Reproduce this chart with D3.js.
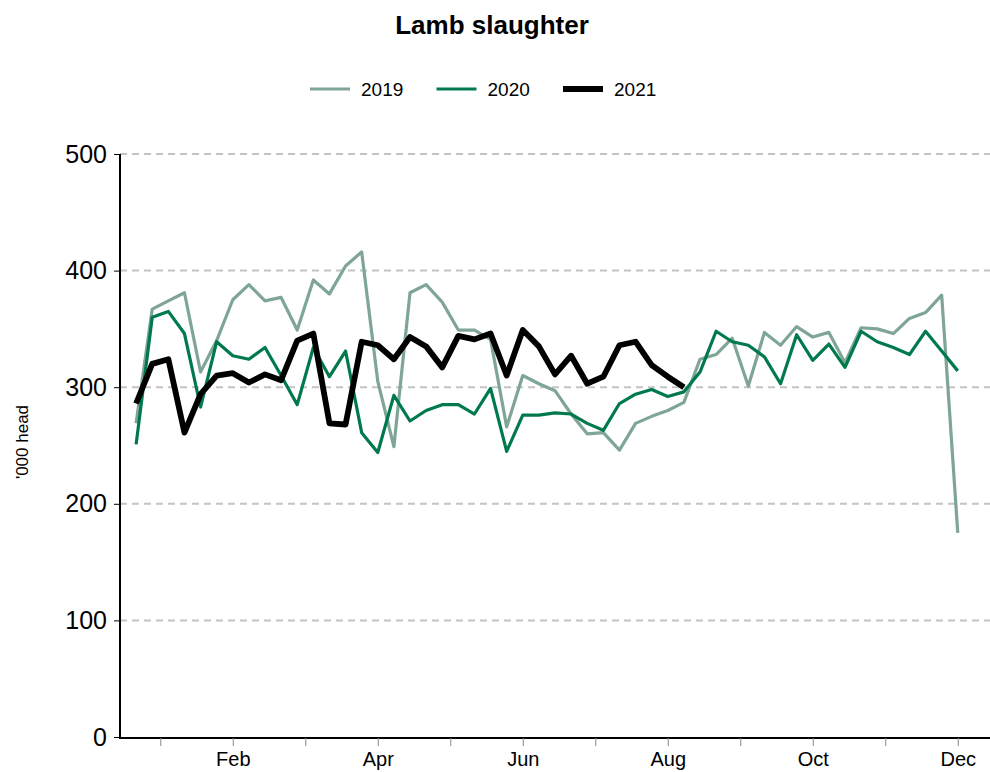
<!DOCTYPE html>
<html>
<head>
<meta charset="UTF-8">
<title>Lamb slaughter</title>
<script src="https://d3js.org/d3.v7.min.js"></script>
<style>
    body { margin: 0; background: #fff; }
    svg text { font-family: "Liberation Sans", Arial, sans-serif; fill: #000; }
</style>
</head>
<body>
<svg id="chart" width="990" height="772"></svg>
<script>
// weekly slaughter, '000 head
var y2019 = [269, 367, 374, 381, 313, 340, 375, 388, 374, 377, 349, 392, 380, 404, 416, 305, 249, 381, 388, 373,
             349, 349, 341, 266, 310, 303, 297, 277, 260, 261, 246, 269, 275, 280, 287, 324, 328, 342, 301, 347,
             336, 352, 343, 347, 321, 351, 350, 346, 359, 364, 379, 175];
var y2020 = [251, 360, 365, 346, 283, 339, 327, 324, 334, 310, 285, 334, 309, 331, 261, 244, 293, 271, 280, 285,
             285, 277, 299, 245, 276, 276, 278, 277, 269, 263, 286, 294, 298, 292, 296, 313, 348, 339, 336, 326,
             303, 345, 323, 337, 317, 348, 339, 334, 328, 348, 331, 314];
var y2021 = [286, 320, 324, 261, 294, 310, 312, 304, 311, 306, 340, 346, 269, 268, 339, 336, 324, 343, 335, 317,
             344, 341, 346, 310, 349, 335, 311, 327, 303, 309, 336, 339, 319, 309, 300];

var years = ["2019", "2020", "2021"];
var monthLabels = ["Jan", "Feb", "Mar", "Apr", "May", "Jun", "Jul", "Aug", "Sep", "Oct", "Nov", "Dec"];
var yTicks = [0, 100, 200, 300, 400, 500];

var seriesStyle = {
    "2019": {color: "#7fa596", width: 3.2},
    "2020": {color: "#007a4c", width: 3.2},
    "2021": {color: "#000000", width: 5.8}
};

var series = [
    {name: "2019", values: y2019},
    {name: "2020", values: y2020},
    {name: "2021", values: y2021}
];

var plotLeft = 120, plotRight = 990, plotTop = 154, plotBottom = 737;

var svg = d3.select("#chart");

// week index scale, months sit every 4.5 weeks
var x = d3.scaleLinear().domain([-1, 53]).range([plotLeft, plotRight]);
var y = d3.scaleLinear().domain([0, 500]).range([plotBottom, plotTop]);

// gridlines
svg.append("g").selectAll("line")
    .data(yTicks.filter(function (d) { return d > 0; }))
    .enter().append("line")
    .attr("x1", plotLeft).attr("x2", plotRight)
    .attr("y1", function (d) { return y(d); })
    .attr("y2", function (d) { return y(d); })
    .attr("stroke", "#c4c4c4")
    .attr("stroke-width", 2)
    .attr("stroke-dasharray", "7,5");

// y axis
var yAxis = svg.append("g")
    .attr("transform", "translate(" + plotLeft + ",0)")
    .call(d3.axisLeft(y).tickValues(yTicks).tickSize(6).tickPadding(7));
yAxis.select(".domain").attr("stroke", "#000").attr("stroke-width", 2)
    .attr("d", "M0," + (plotBottom + 2) + "V" + plotTop);
yAxis.selectAll(".tick line").attr("stroke", "#000").attr("stroke-width", 1);
yAxis.selectAll(".tick text").style("font-size", "25px")
    .style("font-family", "'Liberation Sans', Arial, sans-serif");

// x axis with month ticks
var monthPos = monthLabels.map(function (m, k) { return 1.5 + 4.5 * k; });
var xAxis = svg.append("g")
    .attr("transform", "translate(0," + (plotBottom + 1) + ")")
    .call(d3.axisBottom(x).tickValues(monthPos).tickSize(8).tickPadding(6)
        .tickFormat(function (d, k) { return k % 2 === 1 ? monthLabels[k] : ""; }));
xAxis.select(".domain").attr("stroke", "#000").attr("stroke-width", 2)
    .attr("d", "M" + (plotLeft - 1) + ",0H" + plotRight);
xAxis.selectAll(".tick line").attr("stroke", "#888").attr("stroke-width", 1);
xAxis.selectAll(".tick text").style("font-size", "20px")
    .style("font-family", "'Liberation Sans', Arial, sans-serif");

// lines
var line = d3.line()
    .x(function (d, i) { return x(i); })
    .y(function (d) { return y(d); });

svg.append("g").selectAll("path")
    .data(series)
    .enter().append("path")
    .attr("fill", "none")
    .attr("stroke", function (d) { return seriesStyle[d.name].color; })
    .attr("stroke-width", function (d) { return seriesStyle[d.name].width; })
    .attr("stroke-linejoin", "round")
    .attr("d", function (d) { return line(d.values); });

// title
svg.append("text")
    .attr("x", 492).attr("y", 34)
    .attr("text-anchor", "middle")
    .style("font-size", "26px").style("font-weight", "bold")
    .text("Lamb slaughter");

// y label
svg.append("text")
    .attr("transform", "translate(28,442) rotate(-90)")
    .attr("text-anchor", "middle")
    .style("font-size", "17px")
    .text("'000 head");

// legend
var legend = svg.append("g").selectAll("g")
    .data(years)
    .enter().append("g")
    .attr("transform", function (d, i) { return "translate(" + (310 + i * 126.5) + ",89)"; });
legend.append("line")
    .attr("x1", 0).attr("x2", 40)
    .attr("stroke", function (d) { return seriesStyle[d].color; })
    .attr("stroke-width", function (d) { return seriesStyle[d].width; });
legend.append("text")
    .attr("x", 51).attr("y", 7)
    .style("font-size", "19px")
    .text(function (d) { return d; });
</script>
</body>
</html>
